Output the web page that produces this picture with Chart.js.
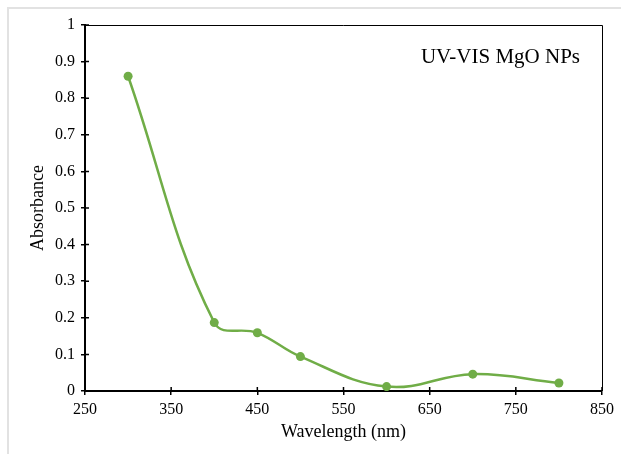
<!DOCTYPE html>
<html>
<head>
<meta charset="utf-8">
<script src="https://cdn.jsdelivr.net/npm/chart.js@4/dist/chart.umd.min.js"></script>
<style>
  html, body { margin: 0; padding: 0; background: #fff; }
  #frame {
    position: absolute; left: 7px; top: 7px; width: 700px; height: 600px;
    border-left: 2px solid #e2e2e2; border-top: 2px solid #e2e2e2;
  }
  #wrap { position: absolute; left: 0; top: 0; width: 621px; height: 454px; }
</style>
</head>
<body>
<div id="frame"></div>
<div id="wrap"><canvas id="chart" width="621" height="454"></canvas></div>
<script>
// UV-VIS absorbance readings
const wavelengths = [300, 400, 450, 500, 600, 700, 800];
const absorbance = [0.860, 0.187, 0.159, 0.094, 0.012, 0.046, 0.022];
const xTicks = [250, 350, 450, 550, 650, 750, 850];
const yTicks = [0, 0.1, 0.2, 0.3, 0.4, 0.5, 0.6, 0.7, 0.8, 0.9, 1];
const chartTitle = "UV-VIS MgO NPs";

const serif = "'Liberation Serif', 'Times New Roman', serif";
const green = "#70ad47";

// draws the inner half of the tick marks, the top/right frame and the label box
const extrasPlugin = {
  id: "extras",
  afterDraw(chart) {
    const { ctx, chartArea: a, scales } = chart;
    ctx.save();
    ctx.strokeStyle = "#000";
    ctx.lineWidth = 1;
    ctx.beginPath();
    ctx.moveTo(a.left, a.top + 0.5);
    ctx.lineTo(a.right + 0.5, a.top + 0.5);
    ctx.lineTo(a.right + 0.5, a.bottom);
    ctx.stroke();

    ctx.lineWidth = 1.5;
    ctx.beginPath();
    scales.x.ticks.forEach(t => {
      const px = scales.x.getPixelForValue(t.value);
      ctx.moveTo(px, a.bottom);
      ctx.lineTo(px, a.bottom - 4);
    });
    scales.y.ticks.forEach(t => {
      const py = scales.y.getPixelForValue(t.value);
      ctx.moveTo(a.left, py);
      ctx.lineTo(a.left + 4, py);
    });
    ctx.stroke();

    ctx.fillStyle = "#000";
    ctx.font = "21px " + serif;
    ctx.textAlign = "right";
    ctx.textBaseline = "middle";
    ctx.fillText(chartTitle, a.right - 22, a.top + 32);
    ctx.restore();
  }
};

new Chart(document.getElementById("chart"), {
  type: "scatter",
  data: {
    datasets: [{
      data: wavelengths.map((w, i) => ({ x: w, y: absorbance[i] })),
      showLine: true,
      borderColor: green,
      backgroundColor: green,
      borderWidth: 2.5,
      pointRadius: 4.5,
      pointBorderWidth: 0,
      tension: 0.4
    }]
  },
  options: {
    responsive: false,
    animation: false,
    layout: { padding: { top: 25, right: 19, left: 0, bottom: 0 } },
    plugins: { legend: { display: false }, tooltip: { enabled: false } },
    scales: {
      x: {
        type: "linear",
        min: 250,
        max: 850,
        afterBuildTicks: s => { s.ticks = xTicks.map(v => ({ value: v })); },
        afterFit: s => { s.height = 63; },
        grid: { drawOnChartArea: false, tickLength: 4, color: "#000", lineWidth: 1.5 },
        border: { color: "#000", width: 2 },
        ticks: { color: "#000", font: { family: serif, size: 16 }, padding: 5, maxRotation: 0 },
        title: { display: true, text: "Wavelength (nm)", color: "#000",
                 font: { family: serif, size: 18 }, padding: { top: 0, bottom: 11 } }
      },
      y: {
        min: 0,
        max: 1,
        afterBuildTicks: s => { s.ticks = yTicks.map(v => ({ value: v })); },
        afterFit: s => { s.width = 85; },
        grid: { drawOnChartArea: false, tickLength: 4, color: "#000", lineWidth: 1.5 },
        border: { color: "#000", width: 2 },
        ticks: { color: "#000", font: { family: serif, size: 16 }, padding: 6,
                 callback: v => String(Math.round(v * 10) / 10) },
        title: { display: true, text: "Absorbance", color: "#000",
                 font: { family: serif, size: 18 }, padding: { top: 27, bottom: 0 } }
      }
    }
  },
  plugins: [extrasPlugin]
});
</script>
</body>
</html>
